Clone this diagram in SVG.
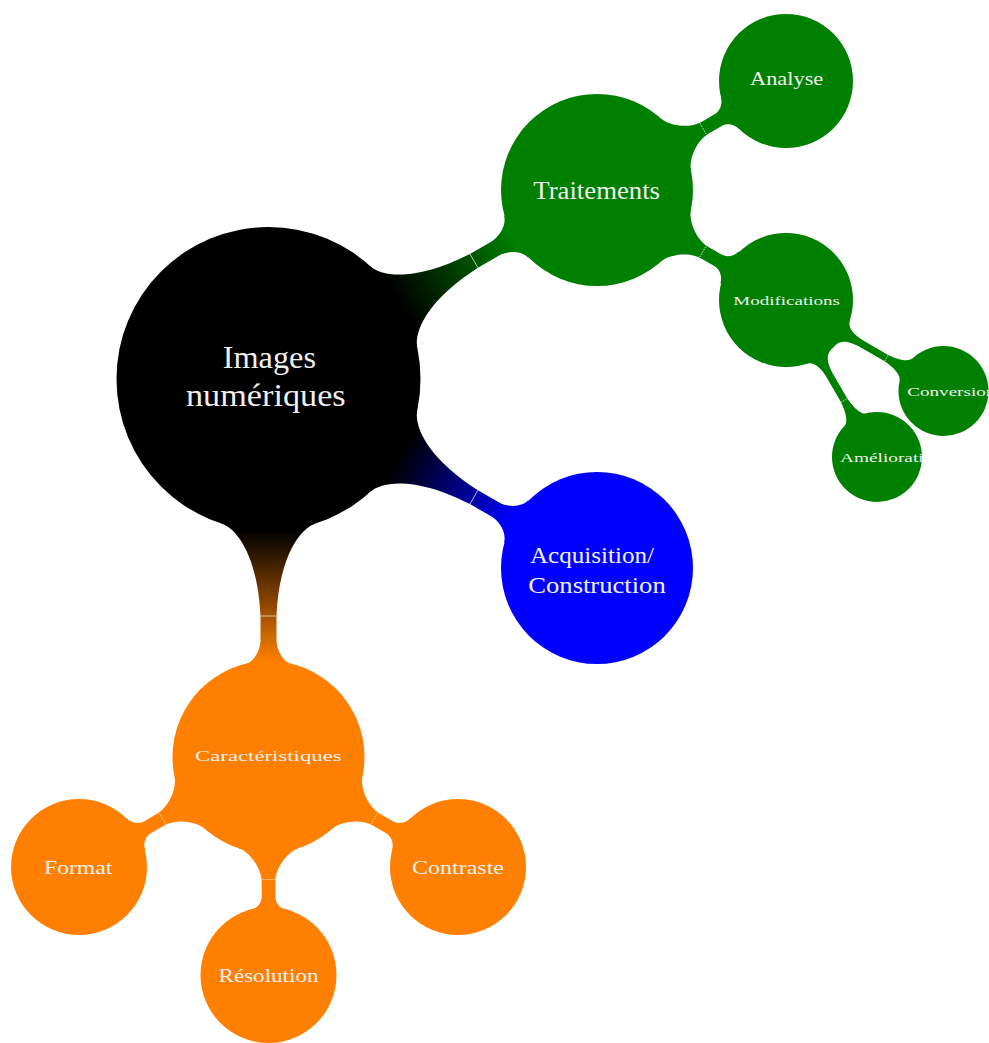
<svg xmlns="http://www.w3.org/2000/svg" xmlns:xlink="http://www.w3.org/1999/xlink" width="989" height="1043" viewBox="0 0 989 1043">
  <style>
    .lbl { font-family: "Liberation Serif", "DejaVu Serif", serif; fill: #f0f0f0; }
    .seam { stroke: #ffffff; stroke-width: 0.8; stroke-opacity: 0.8; fill: none; }
    .seam-dot { stroke: #ffffff; stroke-width: 0.8; stroke-dasharray: 1 1; fill: none; }
    .green { fill: #008000; }
    .blue { fill: #0000ff; }
    .orange { fill: #ff8000; }
    .black { fill: #000000; }
  </style>
  <defs>
    <!-- concave connection bars, drawn along +x from the parent centre (0,0) to the child centre (D,0) -->
    <path id="barL1" d="M0,0 L144.6,-47 C149.2,-32.7 175,-11 237,-8 L261.5,-8 C270.5,-8 283.1,-14.3 285.6,-24 L378.5,0 L285.6,24 C283.1,14.3 270.5,8 261.5,8 L237,8 C175,11 149.2,32.7 144.6,47 Z"/>
    <path id="barL2" d="M0,0 L91.3,-29.7 C94.4,-20.2 110,-6.8 125,-6.8 L139.6,-6.8 C145.6,-6.8 151.5,-10.9 153.7,-18.6 L218.6,0 L153.7,18.6 C151.5,10.9 145.6,6.8 139.6,6.8 L125,6.8 C110,6.8 94.4,20.2 91.3,29.7 Z"/>
    <path id="barL3" d="M0,0 L65.5,-13.9 C68,-6 77,-3.6 90,-3.6 L114,-3.6 C123,-3.6 136.7,-6.6 138.4,-12.4 L181.7,0 L138.4,12.4 C136.7,6.6 123,3.6 114,3.6 L90,3.6 C77,3.6 68,6 65.5,13.9 Z"/>
    <linearGradient id="gGreen" gradientUnits="userSpaceOnUse" x1="152" y1="0" x2="283" y2="0">
      <stop offset="0" stop-color="#000000"/>
      <stop offset="1" stop-color="#008000"/>
    </linearGradient>
    <linearGradient id="gBlue" gradientUnits="userSpaceOnUse" x1="152" y1="0" x2="283" y2="0">
      <stop offset="0" stop-color="#000000"/>
      <stop offset="1" stop-color="#0000ff"/>
    </linearGradient>
    <linearGradient id="gOrange" gradientUnits="userSpaceOnUse" x1="152" y1="0" x2="283" y2="0">
      <stop offset="0" stop-color="#000000"/>
      <stop offset="1" stop-color="#ff8000"/>
    </linearGradient>
    <clipPath id="clipAmelioration"><circle cx="877" cy="457" r="45"/></clipPath>
    <clipPath id="clipConversion"><circle cx="943.5" cy="391" r="45"/></clipPath>
  </defs>

  <rect width="989" height="1043" fill="#ffffff"/>

  <g id="connectors">
    <g transform="translate(268.5,379) rotate(-29.91)">
      <use xlink:href="#barL1" fill="url(#gGreen)"/>
      <line class="seam" x1="237" y1="-8" x2="237" y2="8"/>
    </g>
    <g transform="translate(268.5,379) rotate(29.91)">
      <use xlink:href="#barL1" fill="url(#gBlue)"/>
      <line class="seam" x1="237" y1="-8" x2="237" y2="8"/>
    </g>
    <g transform="translate(268.5,379) rotate(90)">
      <use xlink:href="#barL1" fill="url(#gOrange)"/>
      <line class="seam" x1="237" y1="-8" x2="237" y2="8"/>
    </g>
    <g transform="translate(597,190) rotate(-29.97)">
      <use xlink:href="#barL2" class="green"/>
      <line class="seam-dot" x1="122.5" y1="-7" x2="122.5" y2="7"/>
    </g>
    <g transform="translate(597,190) rotate(30.2)">
      <use xlink:href="#barL2" class="green"/>
      <line class="seam-dot" x1="122.5" y1="-7" x2="122.5" y2="7"/>
    </g>
    <g transform="translate(268.5,757) rotate(149.87)">
      <use xlink:href="#barL2" class="orange"/>
      <line class="seam-dot" x1="122.5" y1="-7" x2="122.5" y2="7"/>
    </g>
    <g transform="translate(268.5,757) rotate(90)">
      <use xlink:href="#barL2" class="orange"/>
      <line class="seam-dot" x1="122.5" y1="-7" x2="122.5" y2="7"/>
    </g>
    <g transform="translate(268.5,757) rotate(30.13)">
      <use xlink:href="#barL2" class="orange"/>
      <line class="seam-dot" x1="122.5" y1="-7" x2="122.5" y2="7"/>
    </g>
    <g transform="translate(786,300) rotate(30.02)">
      <use xlink:href="#barL3" class="green"/>
      <line class="seam-dot" x1="116" y1="-3.6" x2="116" y2="3.6"/>
    </g>
    <g transform="translate(786,300) rotate(59.91)">
      <use xlink:href="#barL3" class="green"/>
      <line class="seam-dot" x1="116" y1="-3.6" x2="116" y2="3.6"/>
    </g>
  </g>

  <g id="images-numeriques">
    <circle class="black" cx="268.5" cy="379" r="152"/>
    <text class="lbl" x="222.7" y="368.3" font-size="31" textLength="93.3" lengthAdjust="spacingAndGlyphs">Images</text>
    <text class="lbl" x="186" y="406" font-size="31" textLength="159.7" lengthAdjust="spacingAndGlyphs">numériques</text>
  </g>

  <g id="traitements">
    <circle class="green" cx="597" cy="190" r="96"/>
    <text class="lbl" x="533.3" y="199.3" font-size="25" textLength="126.7" lengthAdjust="spacingAndGlyphs">Traitements</text>
  </g>

  <g id="analyse">
    <circle class="green" cx="786" cy="81" r="67"/>
    <text class="lbl" x="750" y="85" font-size="19" textLength="73.3" lengthAdjust="spacingAndGlyphs">Analyse</text>
  </g>

  <g id="modifications">
    <circle class="green" cx="786" cy="300" r="67"/>
    <text class="lbl" x="733.3" y="305" font-size="13.5" textLength="106.7" lengthAdjust="spacingAndGlyphs">Modifications</text>
  </g>

  <g id="conversion">
    <circle class="green" cx="943.5" cy="391" r="45"/>
    <text class="lbl" x="907.3" y="395.7" font-size="13.5" textLength="88" lengthAdjust="spacingAndGlyphs" clip-path="url(#clipConversion)">Conversion</text>
  </g>

  <g id="amelioration">
    <circle class="green" cx="877" cy="457" r="45"/>
    <text class="lbl" x="840" y="461.7" font-size="13.5" textLength="103" lengthAdjust="spacingAndGlyphs" clip-path="url(#clipAmelioration)">Amélioration</text>
  </g>

  <g id="acquisition-construction">
    <circle class="blue" cx="597" cy="568" r="96"/>
    <text class="lbl" x="530" y="563.3" font-size="24" textLength="124" lengthAdjust="spacingAndGlyphs">Acquisition/</text>
    <text class="lbl" x="528.3" y="592.7" font-size="24" textLength="137.4" lengthAdjust="spacingAndGlyphs">Construction</text>
  </g>

  <g id="caracteristiques">
    <circle class="orange" cx="268.5" cy="757" r="96"/>
    <text class="lbl" x="195" y="760.7" font-size="14.7" textLength="146.7" lengthAdjust="spacingAndGlyphs">Caractéristiques</text>
  </g>

  <g id="format">
    <circle class="orange" cx="79" cy="867" r="68"/>
    <text class="lbl" x="44" y="874" font-size="18.5" textLength="68.3" lengthAdjust="spacingAndGlyphs">Format</text>
  </g>

  <g id="resolution">
    <circle class="orange" cx="268.5" cy="975" r="68"/>
    <text class="lbl" x="218.5" y="982" font-size="18.5" textLength="100" lengthAdjust="spacingAndGlyphs">Résolution</text>
  </g>

  <g id="contraste">
    <circle class="orange" cx="458" cy="867" r="68"/>
    <text class="lbl" x="412" y="874" font-size="18.5" textLength="92" lengthAdjust="spacingAndGlyphs">Contraste</text>
  </g>
</svg>
